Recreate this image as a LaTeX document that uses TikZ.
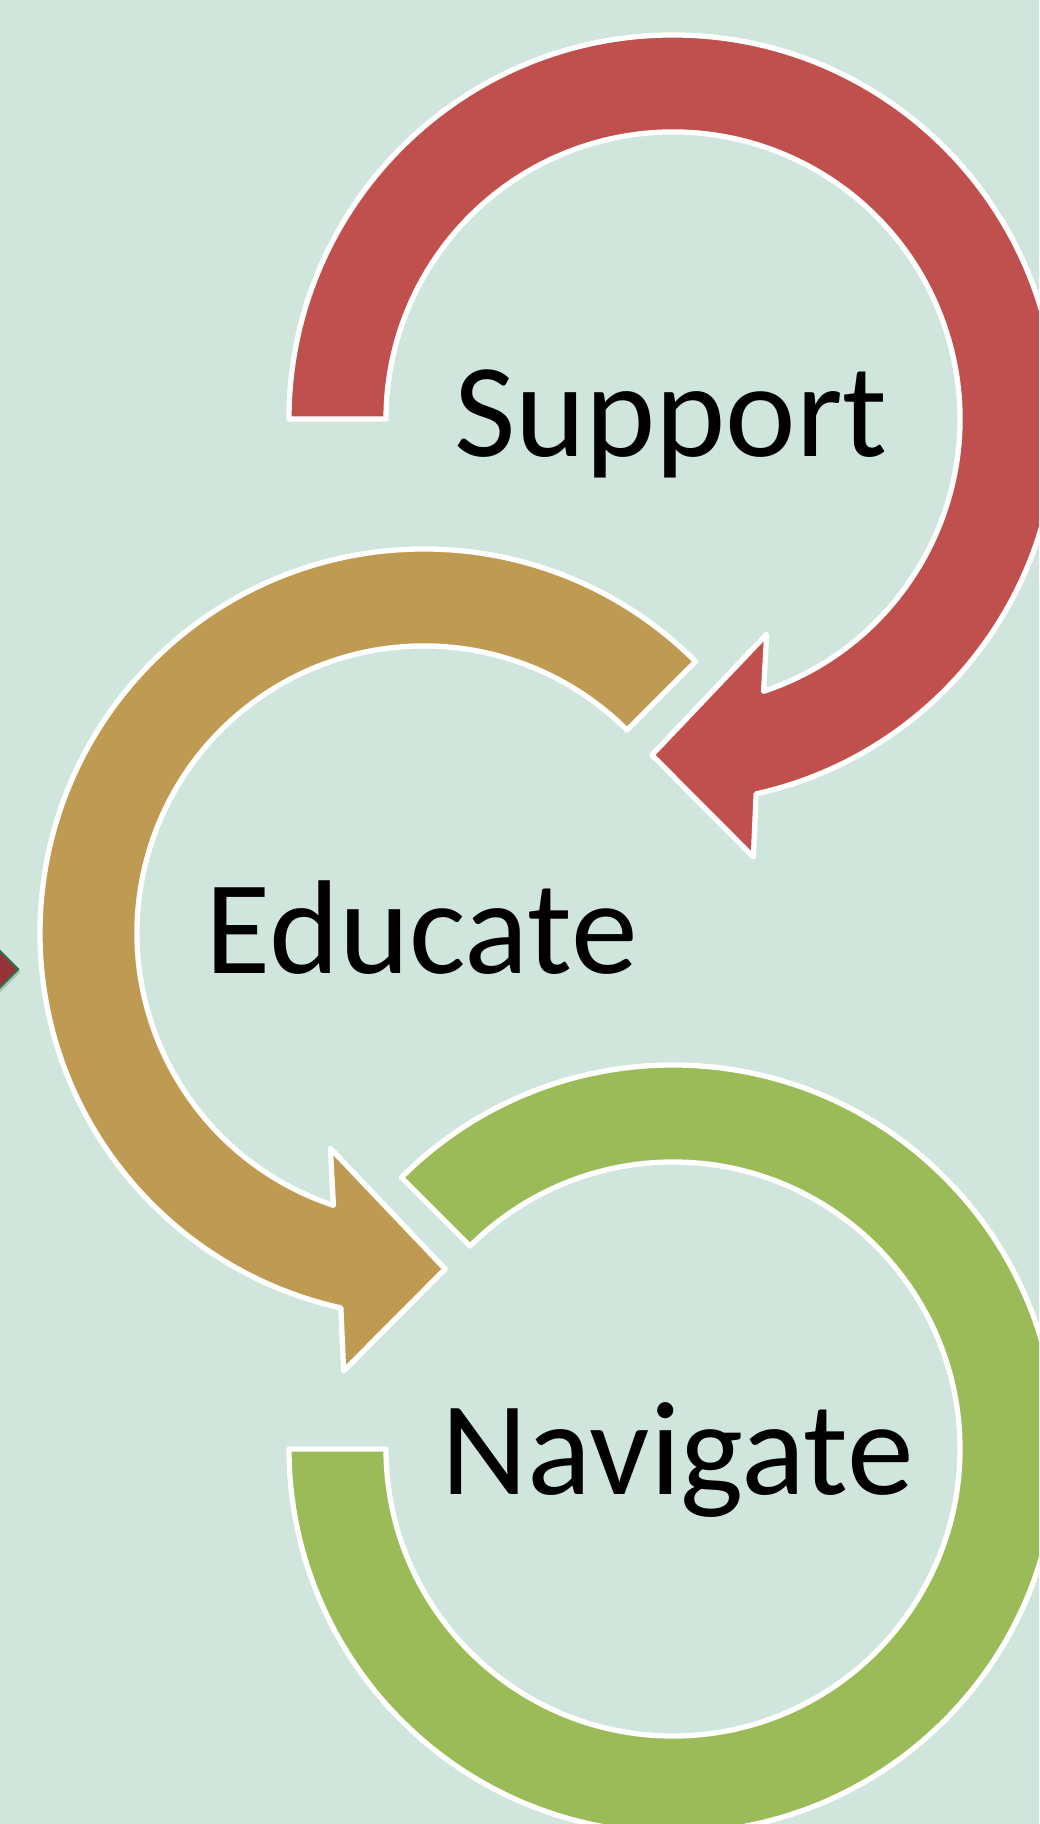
\documentclass[tikz,border=0pt]{standalone}
\usepackage{fontspec}
\setmainfont{Carlito}
\definecolor{bgmint}{RGB}{208,229,220}
\definecolor{ringred}{RGB}{192,80,77}
\definecolor{ringtan}{RGB}{191,154,82}
\definecolor{ringgreen}{RGB}{155,187,89}
\definecolor{markred}{RGB}{150,52,56}
\definecolor{markgreen}{RGB}{33,122,72}

\begin{document}
\begin{tikzpicture}[x=0.01cm, y=0.01cm,
        ring/.style={draw=white, line width=1.5pt, line join=round},
        steptext/.style={anchor=base, inner sep=0pt, font=\fontsize{38}{46}\selectfont}]
        % Background
        \clip (0,0) rectangle (1039,1824);
        \fill[bgmint] (0,0) rectangle (1039,1824);

        % Centres of the three rings
        \coordinate (csupport) at (673,1405);
        \coordinate (ceducate) at (424,891);
        \coordinate (cnavigate) at (673,375);

        % Small marker on the left edge
        \begin{scope}[shift={(-11.7,854.7)}]
            \fill[black, opacity=0.15] (32,-3) -- (2,27) -- (-28,-3) -- (2,-33) -- cycle;
            \filldraw[fill=markred, draw=markgreen, line width=0.5pt] (30,0) -- (0,30) -- (-30,0) -- (0,-30) -- cycle;
        \end{scope}

        % Support arrow (clockwise)
        \begin{scope}[shift={(csupport)}]
            \filldraw[ring, fill=ringred] (180:287) -- (180:384)
                arc[start angle=180, end angle=-77.5, radius=384]
                -- (-79.6:445.3) -- (-93.6:336.7) -- (-66.5:234.8) -- (-71.6:287)
                arc[start angle=-71.6, end angle=180, radius=287] -- cycle;
        \end{scope}

        % Educate arrow (counter-clockwise)
        \begin{scope}[shift={(ceducate)}]
            \filldraw[ring, fill=ringtan] (45:287) -- (45:384)
                arc[start angle=45, end angle=257.5, radius=384]
                -- (259.6:445.3) -- (273.6:336.7) -- (246.5:234.8) -- (251.6:287)
                arc[start angle=251.6, end angle=45, radius=287] -- cycle;
        \end{scope}

        % Navigate ring
        \begin{scope}[shift={(cnavigate)}]
            \filldraw[ring, fill=ringgreen] (135:287) -- (135:384)
                arc[start angle=135, end angle=-180, radius=384]
                -- (180:287)
                arc[start angle=-180, end angle=135, radius=287] -- cycle;
        \end{scope}

        % Labels
        \node[steptext] (support) at (671,1367.3) {Support};
        \node[steptext] (educate) at (421.7,850.7) {Educate};
        \node[steptext] (navigate) at (677.5,329.7) {Navigate};
    \end{tikzpicture}
\end{document}
